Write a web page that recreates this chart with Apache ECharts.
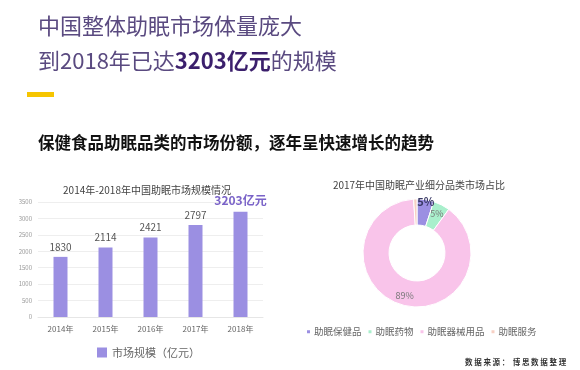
<!DOCTYPE html>
<html><head><meta charset="utf-8">
<script src="https://cdn.jsdelivr.net/npm/echarts@6/dist/echarts.min.js"></script>
<style>html,body{margin:0;padding:0;background:#fff}#c{width:580px;height:370px}</style>
</head><body><div id="c"></div>
<script>
const years = ['2014年','2015年','2016年','2017年','2018年'];
const marketSize = [1830, 2114, 2421, 2797, 3203];
const pieNames = ['助眠保健品','助眠药物','助眠器械用品','助眠服务'];
const pieValues = [5, 5, 89, 1];
const barColor = '#9b8fe2';
const pieColors = ['#9b8fe2','#a9efcc','#f9c4ea','#f7d0c4'];
const FONT = '"Noto Sans CJK SC", "Noto Sans", sans-serif';

const chart = echarts.init(document.getElementById('c'));
chart.setOption({
  textStyle: {fontFamily: FONT},
  animation: false,
  title: [
    {text: '中国整体助眠市场体量庞大', left: 33, top: 10,
     textStyle: {fontSize: 22, fontWeight: 'normal', color: '#5a4a80', fontFamily: FONT}},
    {text: '到2018年已达{b|3203亿元}的规模', left: 33, top: 45,
     textStyle: {fontSize: 22, fontWeight: 'normal', color: '#5a4a80', fontFamily: FONT,
       rich: {b: {fontSize: 22, fontWeight: 'bold', color: '#3b1f6c', fontFamily: FONT}}}},
    {text: '保健食品助眠品类的市场份额，逐年呈快速增长的趋势', left: 33, top: 129,
     textStyle: {fontSize: 16.5, fontWeight: 'bold', color: '#111', fontFamily: FONT}},
    {text: '2014年-2018年中国助眠市场规模情况', left: 142, top: 180, textAlign: 'center',
     textStyle: {fontSize: 10, fontWeight: 'normal', color: '#444', fontFamily: FONT}},
    {text: '2017年中国助眠产业细分品类市场占比', left: 414, top: 175, textAlign: 'center',
     textStyle: {fontSize: 10, fontWeight: 'normal', color: '#444', fontFamily: FONT}},
    {text: '数 据 来 源 ：  博 思 数 据 整 理', left: 460, top: 353,
     textStyle: {fontSize: 7.5, fontWeight: 'bold', color: '#333', fontFamily: FONT}}
  ],
  graphic: [
    {type: 'rect', left: 27, top: 92, shape: {width: 27, height: 5}, style: {fill: '#f6c500'}}
  ],
  legend: [
    {data: ['市场规模（亿元）'], left: 92, top: 342, itemWidth: 10, itemHeight: 10, icon: 'rect',
     textStyle: {fontSize: 11, color: '#666'}},
    {data: pieNames, left: 300, top: 322, itemWidth: 5, itemHeight: 5, icon: 'rect', itemGap: 5,
     textStyle: {fontSize: 9.5, color: '#666', padding: [0, 0, 0, -2]}}
  ],
  grid: {left: 38, right: 317, top: 202, bottom: 53},
  xAxis: {type: 'category', data: years,
    axisLine: {lineStyle: {color: '#e6e6e6'}}, axisTick: {show: false},
    axisLabel: {fontSize: 8, color: '#666', margin: 8}},
  yAxis: {type: 'value', min: 0, max: 3500, interval: 500,
    axisLine: {show: false}, axisTick: {show: false},
    axisLabel: {fontSize: 6, color: '#999', margin: 6, formatter: v => String(v)},
    splitLine: {lineStyle: {color: '#eeeeee'}}},
  series: [
    {type: 'bar', name: '市场规模（亿元）', data: marketSize.map((v, i) => i === marketSize.length - 1 ? {
        value: v, label: {formatter: '{c}亿元', fontSize: 12, fontWeight: 'bold', color: '#7a63c8', distance: 5}} : v),
     barWidth: 14, itemStyle: {color: barColor},
     label: {show: true, position: 'top', fontSize: 10, color: '#555', distance: 5}},
    {type: 'pie', center: [417, 253], radius: [28, 54], startAngle: 90, clockwise: true,
     itemStyle: {borderColor: '#fff', borderWidth: 1},
     label: {show: true, position: 'inside', formatter: '{c}%', fontSize: 9, color: '#777'},
     labelLine: {show: false},
     data: pieNames.map((n, i) => {
       const d = {name: n, value: pieValues[i], itemStyle: {color: pieColors[i]}};
       if (i === 0) d.label = {fontSize: 11, fontWeight: 'bold', color: '#3a3a66', offset: [2, -8]};
       return d;
     })}
  ]
});
</script></body></html>
